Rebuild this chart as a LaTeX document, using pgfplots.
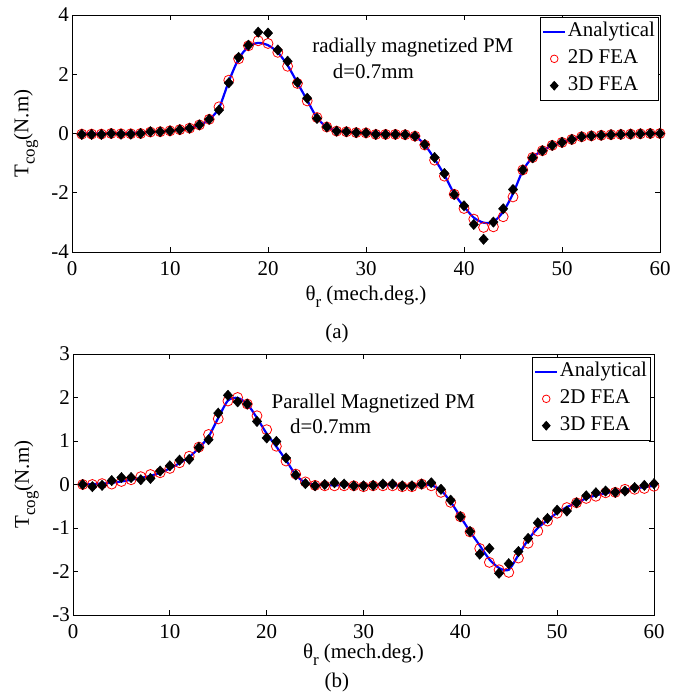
\documentclass[border=0pt]{standalone}
\usepackage{fontspec}
\setmainfont{Liberation Serif}
\usepackage{pgfplots}
\usepackage{pgfplotstable}
\pgfplotsset{compat=1.18}

% x, analytical, 2D FEA, 3D FEA  (radially magnetized)
\pgfplotstableread{
x ana fea2 fea3
1 0.00 -0.02 -0.03
2 0.00 -0.02 -0.03
3 0.00 -0.02 -0.03
4 0.01 0.00 0.00
5 0.01 -0.01 -0.02
6 0.02 -0.01 -0.02
7 0.03 0.00 0.00
8 0.05 0.05 0.06
9 0.06 0.06 0.06
10 0.09 0.09 0.09
11 0.13 0.13 0.13
12 0.18 0.18 0.18
13 0.28 0.29 0.29
14 0.47 0.48 0.48
15 0.86 0.90 0.79
16 1.76 1.80 1.71
17 2.52 2.52 2.57
18 2.93 2.96 2.98
19 3.06 3.13 3.42
20 2.98 3.04 3.39
21 2.74 2.74 2.82
22 2.30 2.27 2.44
23 1.71 1.69 1.73
24 1.12 1.10 1.19
25 0.53 0.54 0.51
26 0.22 0.22 0.22
27 0.10 0.08 0.08
28 0.06 0.06 0.06
29 0.04 0.03 0.03
30 0.02 0.02 0.02
31 0.01 -0.03 -0.03
32 0.00 -0.03 -0.03
33 -0.01 -0.03 -0.03
34 -0.03 -0.04 -0.04
35 -0.09 -0.09 -0.09
36 -0.38 -0.39 -0.37
37 -0.86 -0.90 -0.81
38 -1.40 -1.44 -1.35
39 -2.03 -2.05 -2.06
40 -2.47 -2.53 -2.44
41 -2.84 -2.89 -3.07
42 -3.01 -3.17 -3.57
43 -2.98 -3.15 -2.99
44 -2.64 -2.81 -2.54
45 -2.03 -2.14 -1.89
46 -1.25 -1.23 -1.23
47 -0.80 -0.81 -0.82
48 -0.58 -0.58 -0.58
49 -0.40 -0.40 -0.40
50 -0.30 -0.30 -0.30
51 -0.20 -0.20 -0.20
52 -0.12 -0.11 -0.11
53 -0.08 -0.08 -0.08
54 -0.06 -0.06 -0.06
55 -0.04 -0.04 -0.04
56 -0.03 -0.03 -0.03
57 -0.02 -0.02 -0.02
58 -0.01 -0.01 -0.01
59 0.00 0.00 0.00
60 0.00 0.00 0.00
}\radial

% parallel magnetized
\pgfplotstableread{
x ana fea2 fea3
1 0.00 0.00 0.00
2 0.01 0.00 -0.05
3 0.02 0.02 -0.02
4 0.04 0.01 0.09
5 0.07 0.07 0.16
6 0.11 0.11 0.16
7 0.15 0.18 0.11
8 0.20 0.23 0.14
9 0.27 0.27 0.31
10 0.37 0.37 0.43
11 0.49 0.50 0.56
12 0.63 0.65 0.58
13 0.84 0.86 0.85
14 1.10 1.15 1.03
15 1.53 1.51 1.64
16 1.93 1.92 2.05
17 1.99 2.00 1.90
18 1.85 1.85 1.85
19 1.53 1.58 1.45
20 1.17 1.26 1.07
21 0.87 0.88 0.99
22 0.56 0.54 0.61
23 0.22 0.24 0.22
24 0.04 0.06 0.02
25 0.00 -0.02 -0.03
26 -0.01 -0.03 0.00
27 -0.02 -0.03 0.04
28 -0.02 -0.03 0.01
29 -0.02 -0.03 -0.03
30 -0.02 -0.05 -0.03
31 -0.02 -0.03 -0.02
32 -0.02 -0.03 0.01
33 -0.02 -0.03 0.01
34 -0.03 -0.05 -0.03
35 -0.03 -0.05 -0.03
36 -0.01 0.01 0.01
37 -0.02 -0.03 0.04
38 -0.13 -0.18 -0.11
39 -0.40 -0.41 -0.36
40 -0.74 -0.74 -0.74
41 -1.08 -1.09 -1.08
42 -1.40 -1.47 -1.60
43 -1.72 -1.79 -1.47
44 -1.92 -1.96 -2.04
45 -1.96 -2.02 -1.82
46 -1.62 -1.69 -1.54
47 -1.27 -1.35 -1.24
48 -1.00 -1.07 -0.88
49 -0.82 -0.84 -0.78
50 -0.65 -0.66 -0.59
51 -0.52 -0.53 -0.61
52 -0.42 -0.42 -0.42
53 -0.32 -0.32 -0.26
54 -0.25 -0.27 -0.19
55 -0.20 -0.19 -0.15
56 -0.16 -0.18 -0.18
57 -0.12 -0.11 -0.15
58 -0.09 -0.11 -0.07
59 -0.06 -0.09 -0.02
60 -0.03 -0.04 0.02
}\parallel

\newcommand{\sub}[1]{\raisebox{-0.3em}{\fontsize{17}{17}\selectfont #1}}

\pgfplotsset{
  cogstyle/.style={
    scale only axis,
    xmin=0, xmax=60, xtick={0,10,...,60},
    tick align=inside, major tick length=5bp,
    axis line style={line width=1bp},
    tick style={line width=0.8bp, black},
    every tick label/.append style={inner sep=0pt},
    xticklabel style={yshift=-9bp},
    yticklabel style={xshift=-3bp},
    /pgf/number format/assume math mode=true,
    clip=false,
    ylabel={T\sub{cog}(N.m)},
    xlabel={θ\sub{r} (mech.deg.)},
    legend cell align=left,
    legend style={draw=black, line width=1bp, inner xsep=2bp, inner ysep=3bp,
      row sep=4bp, anchor=north east,
      nodes={inner sep=1.5bp, text height=0.7em, text depth=0.25em}},
  },
  anastyle/.style={blue, line width=2.2bp, smooth, tension=0.45,
    legend image code/.code={\draw[##1] (0bp,0bp) -- (22bp,0bp);}},
  fea2style/.style={only marks, mark=o, red, mark size=5bp, mark options={line width=0.8bp},
    legend image code/.code={\draw[##1, mark size=3.8bp] plot coordinates {(11bp,0bp)};}},
  fea3style/.style={only marks, mark=diamond*, black, mark size=5.2bp, mark options={xscale=1.2},
    legend image code/.code={\draw[##1, mark size=4.2bp] plot coordinates {(11bp,0bp)};}},
}

\begin{document}
\fontsize{21}{24}\selectfont%
\begin{tikzpicture}
\useasboundingbox (0bp,0bp) rectangle (693bp,-698bp);

\begin{axis}[cogstyle,
  at={(72bp,-252bp)}, anchor=south west,
  width=588bp, height=237bp,
  ymin=-4, ymax=4, ytick={-4,-2,0,2,4},
  ylabel style={at={(axis description cs:-0.078,0.5)}, anchor=center, inner sep=0pt},
  xlabel style={at={(axis description cs:0.5,0)}, anchor=north, yshift=-34bp, inner sep=0pt},
  legend style={at={(rel axis cs:1,1)}, xshift=-1bp, yshift=-2bp},
]
\addplot[anastyle] table[x=x,y=ana]{\radial};
\addplot[fea2style] table[x=x,y=fea2]{\radial};
\addplot[fea3style] table[x=x,y=fea3]{\radial};
\legend{Analytical, 2D FEA, 3D FEA}
\node[anchor=base west, inner sep=0pt] at (axis cs:24.5,2.72) {radially magnetized PM};
\node[anchor=base west, inner sep=0pt] at (axis cs:26.6,1.84) {d=0.7mm};
\node[inner sep=0pt] at (axis description cs:0.4507,-0.342) {(a)};
\end{axis}

\begin{axis}[cogstyle,
  at={(73bp,-615bp)}, anchor=south west,
  width=581bp, height=261bp,
  ymin=-3, ymax=3, ytick={-3,-2,...,3},
  ylabel style={at={(axis description cs:-0.080,0.5)}, anchor=center, inner sep=0pt},
  xlabel style={at={(axis description cs:0.5,0)}, anchor=north, yshift=-29bp, inner sep=0pt},
  legend style={at={(rel axis cs:1,1)}, xshift=-3bp, yshift=-3bp},
]
\addplot[anastyle] table[x=x,y=ana]{\parallel};
\addplot[fea2style] table[x=x,y=fea2]{\parallel};
\addplot[fea3style] table[x=x,y=fea3]{\parallel};
\legend{Analytical, 2D FEA, 3D FEA}
\node[anchor=base west, inner sep=0pt] at (axis cs:20.5,1.75) {Parallel Magnetized PM};
\node[anchor=base west, inner sep=0pt] at (axis cs:22.4,1.18) {d=0.7mm};
\node[inner sep=0pt] at (axis description cs:0.454,-0.257) {(b)};
\end{axis}
\end{tikzpicture}
\end{document}
